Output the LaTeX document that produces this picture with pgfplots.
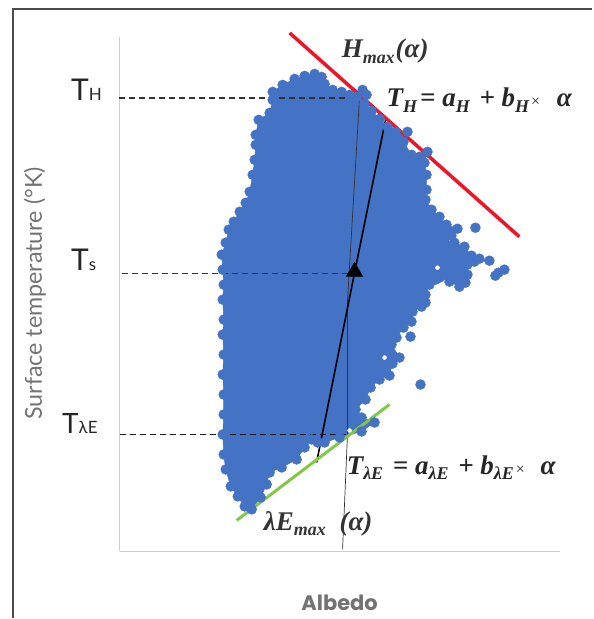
\documentclass[border=0pt]{standalone}
\usepackage{fontspec}
\setmainfont{Liberation Serif}
\newfontfamily\lab{Lato}
\newfontfamily\alb{Poppins}
\usepackage{pgfplots}
\pgfplotsset{compat=1.18}
\definecolor{blob}{RGB}{68,114,196}
\definecolor{axgray}{RGB}{205,205,205}
\definecolor{labgray}{RGB}{115,115,115}
\definecolor{redl}{RGB}{240,20,40}
\definecolor{greenl}{RGB}{130,200,70}
\newcommand{\fm}[1]{{\bfseries\itshape #1}}
\newcommand{\sbs}[1]{\raisebox{-0.2em}{\fontsize{18}{18}\selectfont\bfseries\itshape #1}}
\pgfplotstableread{
x y
315 74
322 77
325 84
333 90
342 92
350 95
357 97
363 90
367 95
365 104
372 111
380 119
388 127
396 132
408 132
404 142
412 155
420 157
428 152
425 163
427 175
427 190
426 200
432 210
440 217
447 225
458 229
452 236
445 240
455 243
465 247
472 256
480 259
490 261
475 262
468 265
468 275
466 283
460 287
450 282
440 278
436 280
430 285
426 295
426 303
422 307
413 312
412 322
404 328
397 338
392 345
400 358
393 364
390 376
380 380
371 388
366 400
356 410
362 418
375 423
362 432
340 438
325 443
318 443
312 440
305 448
297 460
282 468
270 473
267 485
261 498
252 510
245 507
238 497
231 487
226 470
224 455
223 435
224 415
224 395
223 375
224 355
223 335
224 320
223 300
224 285
223 270
222 255
226 243
229 230
234 222
240 212
246 203
250 192
253 175
255 160
256 145
256 135
259 120
270 113
273 100
273 92
283 85
295 79
305 76
}\outline
\begin{document}
\begin{tikzpicture}
\begin{axis}[
  x=1pt,y=1pt,
  xmin=120,xmax=561,ymin=37,ymax=552,y dir=reverse,
  axis x line=bottom,axis y line=left,
  axis line style={axgray,line width=1pt,-},
  xtick=\empty,ytick=\empty,
  clip=false,
  xlabel={},ylabel={},
]
% page extent
\path (axis cs:0,0) rectangle (axis cs:593,619);
% frame
\addplot[black!70,line width=1.5pt] coordinates {(13,619)(13,9)(593,9)};
% cloud
\addplot[fill=blob,draw=blob,line width=0.5pt] table {\outline} --cycle;
\addplot[only marks,mark=*,mark size=5pt,blob,mark options={fill=blob,draw=blob}] table {\outline};
\addplot[only marks,mark=*,mark size=5pt,blob,mark options={fill=blob,draw=blob}] coordinates {(476,228)(505,270)(499,273)(496,276)(421,385)(411,337)(458,277)};
\addplot[only marks,mark=*,mark size=2pt,white,mark options={fill=white,draw=white}] coordinates {(350,431)(385,358)(438,268)};
% dashed guides
\addplot[black!80,line width=1.3pt,dash pattern=on 6pt off 4pt] coordinates {(119,98)(360,98)};
\addplot[black!80,line width=1.3pt,dash pattern=on 6pt off 4pt] coordinates {(122,274)(350,274)};
\addplot[black!90,line width=1.3pt,dash pattern=on 6pt off 4pt] coordinates {(120,435)(347,435)};
% thin and thick lines
\addplot[black!80,line width=0.7pt] coordinates {(360,97)(348,300)(348,433)(343,550)};
\addplot[black,line width=1.6pt] coordinates {(386,120)(355,273)(317,463)};
\addplot[only marks,mark=triangle*,mark size=9.5pt,black] coordinates {(355,272)};
% envelopes
\addplot[redl,line width=3.5pt] coordinates {(290,33)(520,237)};
\addplot[greenl,line width=3pt] coordinates {(237,521)(390,405)};
% labels
\node[anchor=base west,inner sep=0pt,font=\fontsize{27}{28}\selectfont,black!80] at (axis cs:342,58) {\fm{H}\sbs{max}\hspace{1pt}\fm{(α)}};
\node[anchor=base west,inner sep=0pt,font=\fontsize{27}{28}\selectfont,black!85] at (axis cs:387,107) {\fm{T}\sbs{H}\hspace{3pt}\fm{= a}\sbs{H}\hspace{3pt}\fm{ + b}\sbs{H}\hspace{2pt}{\fontsize{16}{16}\selectfont ×}\hspace{10pt} \fm{α}};
\node[anchor=base west,inner sep=0pt,font=\fontsize{27}{28}\selectfont,black!85] at (axis cs:347,475) {\fm{T}\sbs{λE}\hspace{3pt}\fm{ = a}\sbs{λE}\hspace{3pt}\fm{ + b}\sbs{λE}\hspace{2pt}{\fontsize{16}{16}\selectfont ×}\hspace{9pt} \fm{α}};
\node[anchor=base west,inner sep=0pt,font=\fontsize{27}{28}\selectfont,black!80] at (axis cs:264,531) {\fm{λE}\sbs{max}\hspace{7pt}\fm{ (α)}};
\node[anchor=base west,inner sep=0pt,font=\lab\fontsize{30}{32}\selectfont,black!85] at (axis cs:71,101) {T{\fontsize{17}{17}\selectfont H}};
\node[anchor=base west,inner sep=0pt,font=\lab\fontsize{30}{32}\selectfont,black!85] at (axis cs:71,271) {T{\fontsize{17}{17}\selectfont s}};
\node[anchor=base west,inner sep=0pt,font=\lab\fontsize{28}{30}\selectfont,black!85] at (axis cs:62,434) {T{\fontsize{17}{17}\selectfont λE}};
\node[rotate=90,inner sep=0pt,font=\lab\fontsize{23.3}{26}\selectfont,labgray] at (axis cs:35,294) {Surface temperature (°K)};
\node[anchor=base,inner sep=0pt,font=\alb\bfseries\fontsize{21}{23}\selectfont,labgray] at (axis cs:340,611) {Albedo};
\end{axis}
\end{tikzpicture}
\end{document}
